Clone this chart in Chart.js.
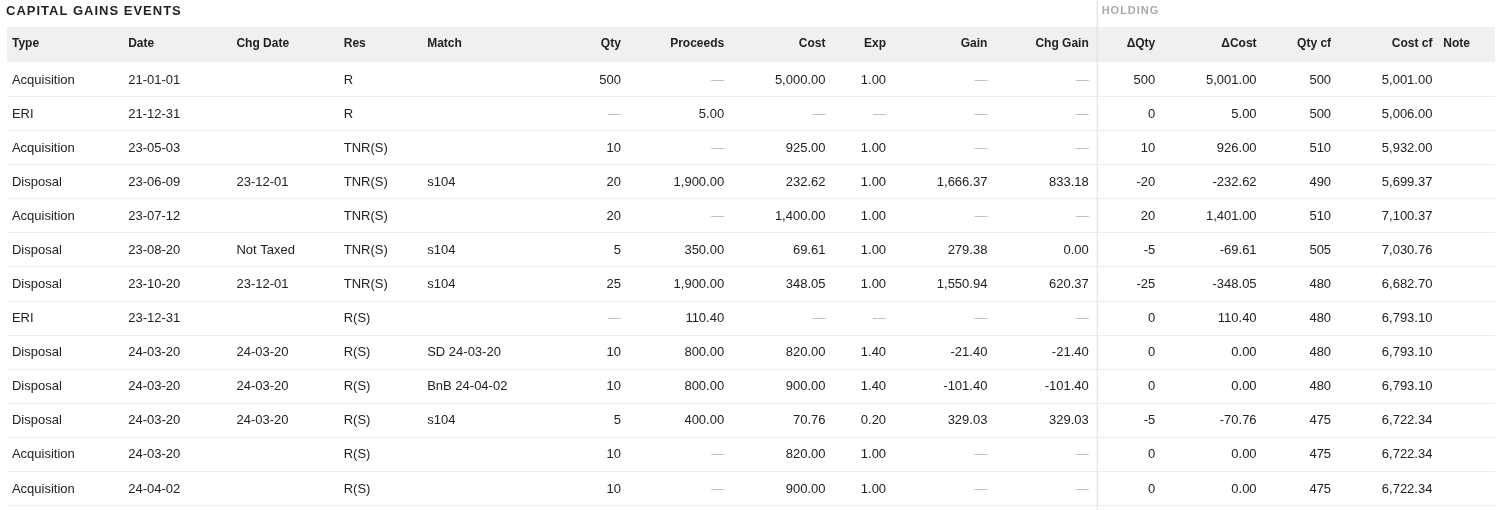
<!DOCTYPE html>
<html>
<head>
<meta charset="utf-8">
<script src="https://cdn.jsdelivr.net/npm/chart.js@4"></script>
<style>
  html, body { margin: 0; padding: 0; background: #fff; }
  #wrap { width: 1500px; height: 510px; position: relative; }
</style>
</head>
<body>
<div id="wrap"><canvas id="cg"></canvas></div>
<script>
// table data
const types = ['Acquisition','ERI','Acquisition','Disposal','Acquisition','Disposal','Disposal','ERI','Disposal','Disposal','Disposal','Acquisition','Acquisition'];
const dates = ['21-01-01','21-12-31','23-05-03','23-06-09','23-07-12','23-08-20','23-10-20','23-12-31','24-03-20','24-03-20','24-03-20','24-03-20','24-04-02'];
const chgDates = ['','','','23-12-01','','Not Taxed','23-12-01','','24-03-20','24-03-20','24-03-20','',''];
const res = ['R','R','TNR(S)','TNR(S)','TNR(S)','TNR(S)','TNR(S)','R(S)','R(S)','R(S)','R(S)','R(S)','R(S)'];
const match = ['','','','s104','','s104','s104','','SD 24-03-20','BnB 24-04-02','s104','',''];
const qty = [500,null,10,20,20,5,25,null,10,10,5,10,10];
const proceeds = [null,5.00,null,1900.00,null,350.00,1900.00,110.40,800.00,800.00,400.00,null,null];
const cost = [5000.00,null,925.00,232.62,1400.00,69.61,348.05,null,820.00,900.00,70.76,820.00,900.00];
const exp = [1.00,null,1.00,1.00,1.00,1.00,1.00,null,1.40,1.40,0.20,1.00,1.00];
const gain = [null,null,null,1666.37,null,279.38,1550.94,null,-21.40,-101.40,329.03,null,null];
const chgGain = [null,null,null,833.18,null,0.00,620.37,null,-21.40,-101.40,329.03,null,null];
const dQty = [500,0,10,-20,20,-5,-25,0,0,0,-5,0,0];
const dCost = [5001.00,5.00,926.00,-232.62,1401.00,-69.61,-348.05,110.40,0.00,0.00,-70.76,0.00,0.00];
const qtyCf = [500,500,510,490,510,505,480,480,480,480,475,475,475];
const costCf = [5001.00,5006.00,5932.00,5699.37,7100.37,7030.76,6682.70,6793.10,6793.10,6793.10,6722.34,6722.34,6722.34];

const money = v => v.toLocaleString('en-US', {minimumFractionDigits: 2, maximumFractionDigits: 2});
const int = v => String(v);

// columns: header, values, formatter, x, align
const columns = [
    ['Type', types, null, 7, 'left'],
    ['Date', dates, null, 124, 'left'],
    ['Chg Date', chgDates, null, 233, 'left'],
    ['Res', res, null, 341, 'left'],
    ['Match', match, null, 425, 'left'],
    ['Qty', qty, int, 620, 'right'],
    ['Proceeds', proceeds, money, 724, 'right'],
    ['Cost', cost, money, 826, 'right'],
    ['Exp', exp, money, 887, 'right'],
    ['Gain', gain, money, 989, 'right'],
    ['Chg Gain', chgGain, money, 1091, 'right'],
    ['\u0394Qty', dQty, int, 1158, 'right'],
    ['\u0394Cost', dCost, money, 1260, 'right'],
    ['Qty cf', qtyCf, int, 1335, 'right'],
    ['Cost cf', costCf, money, 1437, 'right'],
    ['Note', types.map(() => ''), null, 1448, 'left'],
];

const FONT = '"Liberation Sans", Arial, sans-serif';

const tablePlugin = {
    id: 'table',
    afterDraw(chart) {
        const ctx = chart.ctx;
        const xs = chart.scales.x, ys = chart.scales.y;
        const step = ys.getPixelForValue(1) - ys.getPixelForValue(0);
        ctx.save();
        // title
        ctx.textBaseline = 'middle';
        ctx.fillStyle = '#222';
        ctx.font = 'bold 13px ' + FONT;
        ctx.letterSpacing = '1px';
        ctx.textAlign = 'left';
        ctx.fillText('CAPITAL GAINS EVENTS', xs.getPixelForValue(1), 11);
        ctx.fillStyle = '#aaa';
        ctx.font = 'bold 11px ' + FONT;
        ctx.fillText('HOLDING', xs.getPixelForValue(1104), 11);
        ctx.letterSpacing = '0px';
        // header band
        const top = ys.getPixelForValue(0) - step / 2;
        ctx.fillStyle = '#f0f0f2';
        ctx.fillRect(xs.getPixelForValue(2), 27, xs.getPixelForValue(1500) - xs.getPixelForValue(2), top - 27);
        ctx.fillStyle = '#222';
        ctx.font = 'bold 12px ' + FONT;
        columns.forEach(c => {
            ctx.textAlign = c[4];
            ctx.fillText(c[0], xs.getPixelForValue(c[3]), 44);
        });
        // row separators
        ctx.strokeStyle = '#ececec';
        ctx.lineWidth = 1;
        for (let i = 0; i < types.length; i++) {
            const y = Math.round(ys.getPixelForValue(i) + step / 2) + 0.5;
            ctx.beginPath();
            ctx.moveTo(xs.getPixelForValue(2), y);
            ctx.lineTo(xs.getPixelForValue(1500), y);
            ctx.stroke();
        }
        // holding divider
        ctx.strokeStyle = '#dcdcdc';
        ctx.beginPath();
        ctx.moveTo(xs.getPixelForValue(1099) + 0.5, 0);
        ctx.lineTo(xs.getPixelForValue(1099) + 0.5, 510);
        ctx.stroke();
        // cells
        ctx.font = '13px ' + FONT;
        columns.forEach(c => {
            ctx.textAlign = c[4];
            c[1].forEach((v, i) => {
                const y = ys.getPixelForValue(i) + 1;
                let s;
                if (v === null) { ctx.fillStyle = '#bbb'; s = '\u2014'; }
                else { ctx.fillStyle = '#222'; s = c[2] ? c[2](v) : v; }
                ctx.fillText(s, xs.getPixelForValue(c[3]), y);
            });
        });
        ctx.restore();
    }
};

let cg_table = new Chart(document.getElementById('cg'), {
    type: 'line',
    data: {
        labels: types.map((t, i) => String(i)),
        datasets: [{ label: 'rows', data: types.map(() => null) }]
    },
    options: {
        responsive: true,
        maintainAspectRatio: false,
        animation: false,
        layout: { padding: { top: 62, left: 0, right: 0, bottom: 0 } },
        plugins: { legend: { display: false }, tooltip: { enabled: false } },
        scales: {
            x: { type: 'linear', min: 0, max: 1500, display: false },
            y: { type: 'category', offset: true, display: false }
        }
    },
    plugins: [tablePlugin]
});
</script>
</body>
</html>
